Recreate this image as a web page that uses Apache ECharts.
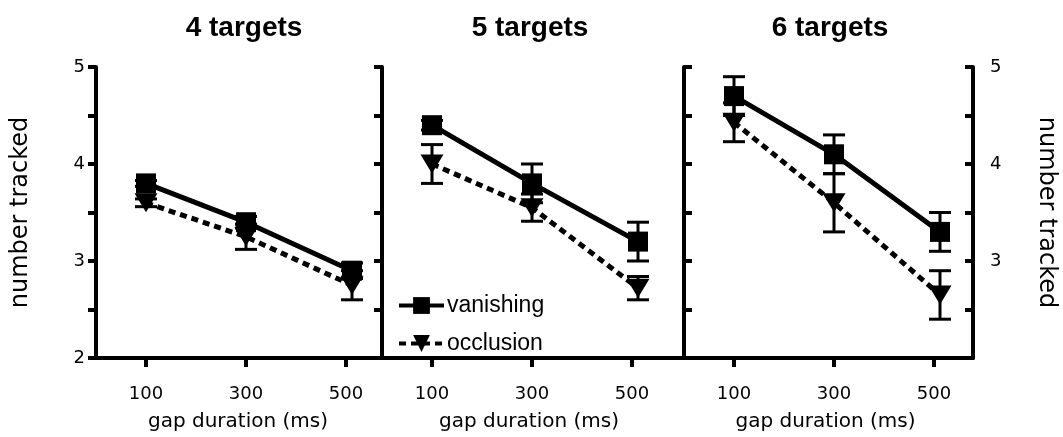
<!DOCTYPE html>
<html><head><meta charset="utf-8">
<script src="https://cdn.jsdelivr.net/npm/echarts@6/dist/echarts.min.js"></script>
<style>html,body{margin:0;padding:0;background:#fff}#c{width:1063px;height:437px}</style>
</head><body><div id="c"></div>
<script>
// ---- data ----
const panelTitles = ['4 targets', '5 targets', '6 targets'];
const gapMs = [100, 300, 512];
const xTickValues = [100, 300, 500];
const seriesNames = ['vanishing', 'occlusion'];

const vanish4 = [3.8, 3.4, 2.9];
const vanishErr4 = [0.03, 0.06, 0.08];
const occl4 = [3.6, 3.25, 2.75];
const occlErr4 = [0.04, 0.13, 0.15];

const vanish5 = [4.4, 3.8, 3.2];
const vanishErr5 = [0.05, 0.2, 0.2];
const occl5 = [4.0, 3.55, 2.72];
const occlErr5 = [0.2, 0.14, 0.12];

const vanish6 = [4.7, 4.1, 3.3];
const vanishErr6 = [0.2, 0.2, 0.2];
const occl6 = [4.43, 3.6, 2.65];
const occlErr6 = [0.2, 0.3, 0.25];

const yAxisName = 'number tracked';
const xAxisName = 'gap duration (ms)';

// ---- layout ----
const panels = [
  {v: vanish4, ve: vanishErr4, o: occl4, oe: occlErr4},
  {v: vanish5, ve: vanishErr5, o: occl5, oe: occlErr5},
  {v: vanish6, ve: vanishErr6, o: occl6, oe: occlErr6}
];
const gridDefs = [
  {left: 96, width: 284, xmin: 0, xmax: 568, cx: 244},
  {left: 380, width: 298, xmin: -4, xmax: 592, cx: 530},
  {left: 678, width: 295, xmin: -12, xmax: 578, cx: 830}
];
const TOP = 67, HEIGHT = 296;
const BLACK = '#000';
const tickFont = '"DejaVu Sans", Verdana, sans-serif';

function errRender(params, api) {
  const x = api.value(0), c = api.value(1), e = api.value(2);
  const t = api.coord([x, c + e]);
  const b = api.coord([x, c - e]);
  const hw = 11;
  const style = {stroke: BLACK, lineWidth: 3};
  return {type: 'group', children: [
    {type: 'line', shape: {x1: t[0], y1: t[1], x2: b[0], y2: b[1]}, style},
    {type: 'line', shape: {x1: t[0] - hw, y1: t[1], x2: t[0] + hw, y2: t[1]}, style},
    {type: 'line', shape: {x1: b[0] - hw, y1: b[1], x2: b[0] + hw, y2: b[1]}, style}
  ]};
}

const grid = gridDefs.map(g => ({left: g.left, top: TOP, width: g.width, height: HEIGHT}));

const xAxis = gridDefs.map((g, i) => ({
  type: 'value', gridIndex: i, min: g.xmin, max: g.xmax,
  splitLine: {show: false},
  axisLine: {show: true, onZero: false, lineStyle: {color: BLACK, width: 4}},
  axisTick: {show: true, customValues: xTickValues, length: 9, lineStyle: {color: BLACK, width: 4}},
  axisLabel: {show: true, customValues: xTickValues, margin: 27, color: BLACK, fontSize: 18, fontFamily: tickFont},
  name: xAxisName, nameLocation: 'middle', nameGap: 54,
  nameTextStyle: {color: BLACK, fontSize: 20, fontFamily: tickFont}
}));

function yBase(gi, extra) {
  return Object.assign({
    type: 'value', gridIndex: gi, min: 2, max: 5, interval: 0.5,
    splitLine: {show: false},
    axisLine: {show: true, lineStyle: {color: BLACK, width: 4}},
    axisTick: {show: true, length: 8, lineStyle: {color: BLACK, width: 4}},
    axisLabel: {show: false}
  }, extra);
}
const yAxis = [
  yBase(0, {
    position: 'left',
    axisLabel: {show: true, margin: 11, color: BLACK, fontSize: 18, fontFamily: tickFont,
      formatter: v => (Math.abs(v - Math.round(v)) < 1e-9 ? String(Math.round(v)) : '')},
    name: yAxisName, nameLocation: 'middle', nameGap: 63,
    nameTextStyle: {color: BLACK, fontSize: 24, fontFamily: tickFont}
  }),
  yBase(1, {position: 'left'}),
  yBase(2, {position: 'left', axisTick: {show: true, inside: true, length: 8, lineStyle: {color: BLACK, width: 4}}}),
  yBase(2, {
    position: 'right',
    axisTick: {show: true, inside: true, length: 8, lineStyle: {color: BLACK, width: 4}},
    axisLabel: {show: true, margin: 17, color: BLACK, fontSize: 18, fontFamily: tickFont,
      formatter: v => (v > 2 && Math.abs(v - Math.round(v)) < 1e-9 ? String(Math.round(v)) : '')},
    name: yAxisName, nameLocation: 'middle', nameGap: 61, nameRotate: -90,
    nameTextStyle: {color: BLACK, fontSize: 24, fontFamily: tickFont}
  })
];
const yIdx = [0, 1, 2];

const series = [];
panels.forEach((p, i) => {
  series.push({
    type: 'custom', xAxisIndex: i, yAxisIndex: yIdx[i], renderItem: errRender,
    encode: {x: 0, y: 1}, z: 1, silent: true,
    data: gapMs.map((x, k) => [x, p.o[k], p.oe[k]])
  });
  series.push({
    type: 'custom', xAxisIndex: i, yAxisIndex: yIdx[i], renderItem: errRender,
    encode: {x: 0, y: 1}, z: 1, silent: true,
    data: gapMs.map((x, k) => [x, p.v[k], p.ve[k]])
  });
  series.push({
    name: seriesNames[1], type: 'line', xAxisIndex: i, yAxisIndex: yIdx[i],
    data: gapMs.map((x, k) => [x, p.o[k]]),
    symbol: 'triangle', symbolRotate: 180, symbolSize: [23, 19], showAllSymbol: true,
    itemStyle: {color: BLACK}, z: 3,
    lineStyle: {color: BLACK, width: 5, type: [7, 5]}, animation: false
  });
  series.push({
    name: seriesNames[0], type: 'line', xAxisIndex: i, yAxisIndex: yIdx[i],
    data: gapMs.map((x, k) => [x, p.v[k]]),
    symbol: 'rect', symbolSize: 20, showAllSymbol: true,
    itemStyle: {color: BLACK}, z: 4,
    lineStyle: {color: BLACK, width: 5, type: 'solid'}, animation: false
  });
});

const graphic = gridDefs.map((g, i) => ({
  type: 'text', x: g.cx, y: 14,
  style: {text: panelTitles[i], align: 'center', fill: BLACK,
    font: 'bold 28px "Liberation Sans", Arial, sans-serif'}
}));

const chart = echarts.init(document.getElementById('c'), null, {renderer: 'canvas'});
chart.setOption({
  animation: false,
  backgroundColor: '#fff',
  grid, xAxis, yAxis, series, graphic,
  legend: {
    data: seriesNames, orient: 'vertical', left: 392, top: 289,
    itemWidth: 45, itemHeight: 21, itemGap: 15, selectedMode: false,
    lineStyle: {width: 4},
    textStyle: {color: BLACK, fontSize: 23, fontFamily: '"Liberation Sans", Arial, sans-serif', padding: [0, 0, 0, -2]}
  }
});
</script></body></html>
